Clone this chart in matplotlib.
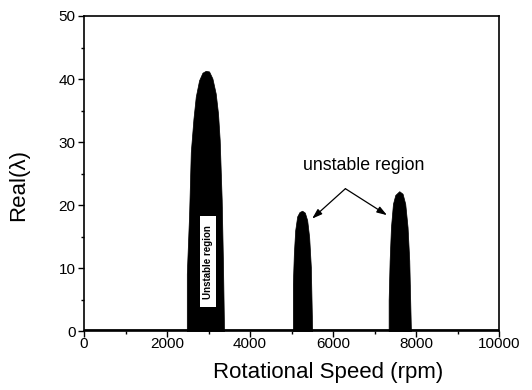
import matplotlib
matplotlib.use("Agg")
import matplotlib.pyplot as plt
from matplotlib.patches import Rectangle
from matplotlib.ticker import MultipleLocator

plt.rcParams['font.family'] = ['Liberation Sans', 'DejaVu Sans']

# Hump 1 outline (rpm, Real(lambda))
speed1 = [2476, 2476, 2532, 2572, 2636, 2692, 2772, 2853, 2933, 3013, 3093, 3173, 3229, 3269, 3317, 3349, 3373]
real1 = [0, 9.1, 18.6, 28.4, 33.7, 37.2, 39.8, 41.0, 41.3, 41.2, 40.1, 37.7, 34.5, 30.3, 20.8, 10.2, 0]
# Hump 2
speed2 = [5032, 5032, 5056, 5088, 5136, 5192, 5256, 5321, 5377, 5425, 5465, 5497]
real2 = [0, 7.5, 12.3, 16.0, 18.2, 18.9, 19.1, 18.8, 17.6, 14.9, 10.2, 0]
# Hump 3
speed3 = [7340, 7340, 7364, 7396, 7444, 7500, 7596, 7676, 7740, 7796, 7837, 7877]
real3 = [0, 4.9, 11.2, 16.5, 20.2, 21.6, 22.2, 21.8, 20.2, 16.5, 11.2, 0]

baseline_x = [0, 10000]
baseline_y = [0.2, 0.2]

x_ticks = [0, 2000, 4000, 6000, 8000, 10000]
y_ticks = [0, 10, 20, 30, 40, 50]

fig = plt.figure(figsize=(5.32, 3.9), dpi=100)
ax = fig.add_axes([0.158, 0.151, 0.78, 0.808])

for sx, ry in [(speed1, real1), (speed2, real2), (speed3, real3)]:
    ax.fill_between(sx, ry, 0, color='black', linewidth=0.5, edgecolor='black')

ax.plot(baseline_x, baseline_y, color='black', linewidth=2.0)

ax.set_xlim(0, 10000)
ax.set_ylim(0, 50)
ax.set_xticks(x_ticks)
ax.set_yticks(y_ticks)
ax.xaxis.set_minor_locator(MultipleLocator(1000))
ax.yaxis.set_minor_locator(MultipleLocator(5))
ax.tick_params(which='major', direction='out', length=4, width=1, labelsize=11)
ax.tick_params(axis='x', which='major', pad=0.5)
ax.tick_params(axis='y', which='major', pad=2)
ax.tick_params(which='minor', direction='out', length=2.5, width=1)
for s in ax.spines.values():
    s.set_linewidth(1.2)

ax.set_xlabel('Rotational Speed (rpm)', fontsize=16)
ax.xaxis.set_label_coords(0.588, -0.097)
ax.set_ylabel('Real(\u03bb)', fontsize=16)
ax.yaxis.set_label_coords(-0.132, 0.463)

# inner label
ax.add_patch(Rectangle((2796, 3.8), 385, 14.4, facecolor='white', edgecolor='none', zorder=3))
ax.text(2989, 11.0, 'Unstable region', rotation=90, fontsize=7, fontweight='bold',
        ha='center', va='center', zorder=4)

# annotation
ax.text(6735, 26.2, 'unstable region', fontsize=12.8, ha='center', va='center')
arrow = dict(arrowstyle='-|>,head_length=0.6,head_width=0.2', color='black', lw=0.9,
             shrinkA=0, shrinkB=0)
ax.annotate('', xy=(5497, 17.85), xytext=(6298, 22.6), arrowprops=arrow)
ax.annotate('', xy=(7300, 18.4), xytext=(6298, 22.6), arrowprops=arrow)

fig.savefig('out.png', dpi=100)
